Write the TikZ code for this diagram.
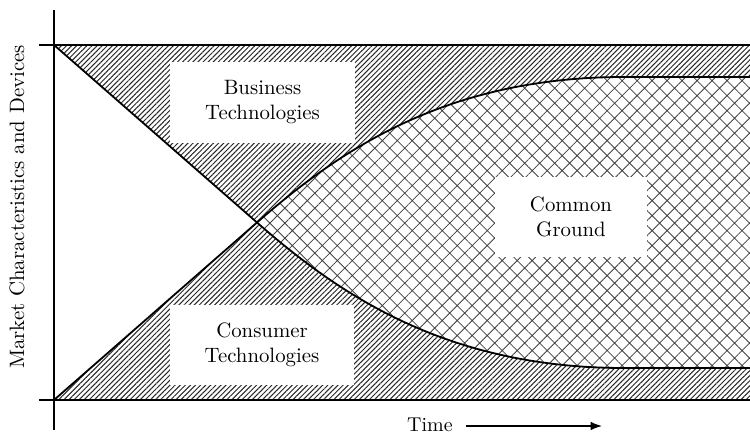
\documentclass[tikz,border=0pt]{standalone}
\usepackage{tikz}
\usetikzlibrary{arrows.meta,patterns.meta}

\tikzset{
  hatched/.style={pattern={Lines[angle=45,distance=1.8pt,line width=0.5pt]},pattern color=black!85},
  crossed/.style={pattern={Hatch[angle=45,distance=5.3pt,line width=0.4pt]},pattern color=black!75},
  region/.style={fill=white,align=center,inner sep=0pt,font=\fontsize{10.4}{12.5}\selectfont},
  border/.style={line width=0.9pt},
}

\begin{document}
\begin{tikzpicture}[>=Latex,x=0.5pt,y=0.5pt]
\useasboundingbox (-54,-33) rectangle (696,400);
% shaded areas
\fill[hatched] (0,355) -- (203,177.5) .. controls (283,247.5) and (390,323) .. (570,323)
  -- (696,323) -- (696,355) -- cycle;
\fill[hatched] (0,0) -- (203,177.5) .. controls (283,107.5) and (390,32) .. (570,32)
  -- (696,32) -- (696,0) -- cycle;
\fill[crossed] (203,177.5) .. controls (283,247.5) and (390,323) .. (570,323)
  -- (696,323) -- (696,32) -- (570,32) .. controls (390,32) and (283,107.5) .. (203,177.5);
% labels
\node (biz) [region,minimum width=92.5pt,minimum height=40.5pt] at (208.5,297.5) {Business\\Technologies};
\node (con) [region,minimum width=92pt,minimum height=40pt] at (208,55) {Consumer\\Technologies};
\node (com) [region,minimum width=76pt,minimum height=40pt] at (517,183) {Common\\Ground};
% boundaries
\draw[border] (0,355) -- (203,177.5) .. controls (283,107.5) and (390,32) .. (570,32) -- (696,32);
\draw[border] (0,0) -- (203,177.5) .. controls (283,247.5) and (390,323) .. (570,323) -- (696,323);
% axes
\draw[line width=0.6pt] (0,-30) -- (0,390);
\draw[line width=0.9pt] (-15,355) -- (696,355);
\draw[line width=0.9pt] (-15,0) -- (696,0);
\node (yl) [rotate=90,font=\fontsize{10.4}{12.5}\selectfont] at (-37,193) {Market Characteristics and Devices};
\node (time) at (376,-25) {Time};
\coordinate (tend) at (548,-26);
\draw[->,line width=0.6pt] ([xshift=3pt,yshift=-0.5pt]time.east) -- (tend);
\end{tikzpicture}
\end{document}
